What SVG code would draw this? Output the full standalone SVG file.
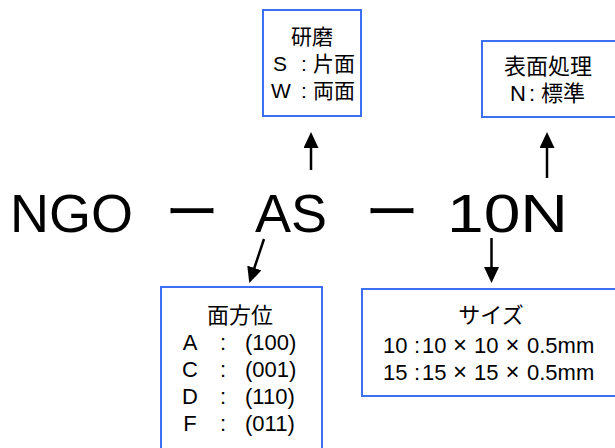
<svg xmlns="http://www.w3.org/2000/svg" width="615" height="448" viewBox="0 0 615 448">
<style>
.bg{fill:#ffffff}
.box{fill:#ffffff;stroke:#3d6ff2;stroke-width:2}
.t{font-family:"Liberation Sans","Noto Sans CJK JP",sans-serif;font-size:22px;fill:#000}
.t1{font-size:21px}
.x{font-size:24px}
.big{font-family:"Liberation Sans","Noto Sans CJK JP",sans-serif;font-size:54px;fill:#000}
.dash{font-family:"Noto Sans CJK JP",sans-serif;font-size:54px;fill:#000}
.m{text-anchor:middle}
.arr{stroke:#000;stroke-width:2.5;fill:none;marker-end:url(#ah)}
</style>
<defs>
<marker id="ah" markerUnits="userSpaceOnUse" markerWidth="18" markerHeight="16" refX="10" refY="7.5" orient="auto" viewBox="0 0 18 16">
<path d="M0,0 L16,7.5 L0,15 Z" fill="#000"/>
</marker>
</defs>
<rect class="bg" width="615" height="448"/>
<g id="code">
<text class="big" x="10" y="232">NGO</text>
<text class="dash" x="165" y="232">ー</text>
<text class="big" x="255" y="232">AS</text>
<text class="dash" x="365" y="232">ー</text>
<text class="big" x="447" y="232" textLength="121" lengthAdjust="spacingAndGlyphs">10N</text>
</g>
<g id="connectors">
<line class="arr" x1="311" y1="170" x2="311" y2="138"/>
<line class="arr" x1="547" y1="178" x2="547" y2="138"/>
<line class="arr" x1="264" y1="239" x2="251.2" y2="277.4"/>
<line class="arr" x1="491.5" y1="238" x2="491.5" y2="277"/>
</g>
<g id="polish">
<rect class="box" x="263" y="10" width="98" height="106"/>
<text class="t t1 m" x="312" y="44">研磨</text>
<text class="t t1"><tspan x="273" y="71">S</tspan><tspan class="m" x="304" y="71">:</tspan><tspan x="313" y="71">片面</tspan></text>
<text class="t t1"><tspan x="271" y="98">W</tspan><tspan class="m" x="304" y="98">:</tspan><tspan x="313" y="98">両面</tspan></text>
</g>
<g id="surface">
<rect class="box" x="482" y="41" width="136" height="76"/>
<text class="t m" x="548" y="74">表面処理</text>
<text class="t"><tspan x="510" y="101">N</tspan><tspan class="m" x="532" y="101">:</tspan><tspan x="541" y="101">標準</tspan></text>
</g>
<g id="orientation">
<rect class="box" x="161" y="287" width="161" height="166"/>
<text class="t m" x="240" y="323">面方位</text>
<text class="t"><tspan class="m" x="190" y="350">A</tspan><tspan class="m" x="223" y="350">:</tspan><tspan x="245" y="350">(100)</tspan></text>
<text class="t"><tspan class="m" x="190" y="377">C</tspan><tspan class="m" x="223" y="377">:</tspan><tspan x="245" y="377">(001)</tspan></text>
<text class="t"><tspan class="m" x="190" y="404">D</tspan><tspan class="m" x="223" y="404">:</tspan><tspan x="245" y="404">(110)</tspan></text>
<text class="t"><tspan class="m" x="190" y="431">F</tspan><tspan class="m" x="223" y="431">:</tspan><tspan x="245" y="431">(011)</tspan></text>
</g>
<g id="size">
<rect class="box" x="362" y="289" width="256" height="107"/>
<text class="t m" x="491" y="323">サイズ</text>
<text class="t"><tspan x="383" y="353">10</tspan><tspan x="414" y="353">:</tspan><tspan x="422" y="353">10</tspan><tspan class="x m" x="460" y="353">×</tspan><tspan x="474" y="353">10</tspan><tspan class="x m" x="512.5" y="353">×</tspan><tspan x="527" y="353">0.5mm</tspan></text>
<text class="t"><tspan x="383" y="380">15</tspan><tspan x="414" y="380">:</tspan><tspan x="422" y="380">15</tspan><tspan class="x m" x="460" y="380">×</tspan><tspan x="474" y="380">15</tspan><tspan class="x m" x="512.5" y="380">×</tspan><tspan x="527" y="380">0.5mm</tspan></text>
</g>
</svg>
